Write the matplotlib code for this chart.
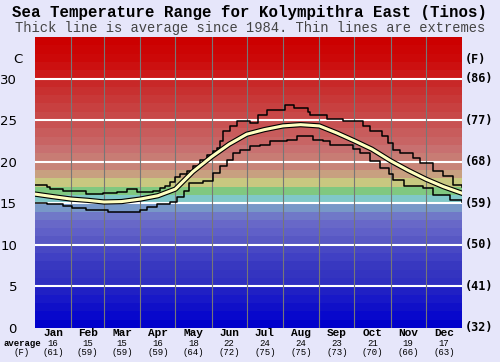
import matplotlib
matplotlib.use("Agg")
import matplotlib.pyplot as plt
import matplotlib.patheffects as pe
from matplotlib.transforms import blended_transform_factory

# month names, month lengths and monthly averages
months = ["Jan", "Feb", "Mar", "Apr", "May", "Jun",
          "Jul", "Aug", "Sep", "Oct", "Nov", "Dec"]
month_days = [31, 28, 31, 30, 31, 30, 31, 31, 30, 31, 30, 31]
avg_c = [16, 15, 15, 16, 18, 22, 24, 24, 23, 21, 19, 17]
avg_f = [61, 59, 59, 59, 64, 72, 75, 75, 73, 70, 66, 63]

# average line (day of year, deg C)
avg_day = [0, 15, 31, 45, 59, 74, 90, 105, 120, 135, 151, 166, 181, 196,
           212, 227, 243, 258, 273, 288, 304, 319, 334, 349, 365]
avg_temp = [16.1, 15.8, 15.5, 15.35, 15.15, 15.2, 15.5, 15.9, 16.7, 18.8,
            20.6, 22.1, 23.3, 23.85, 24.3, 24.45, 24.3, 23.45, 22.5, 21.5,
            20.1, 18.95, 17.9, 17.0, 16.2]

# extremes, step lines
max_day = [0, 10, 13, 24, 44, 58, 70, 79, 87, 101, 107, 111, 115, 120, 124,
           130, 135, 141, 147, 152, 156, 158, 161, 167, 173, 184, 191, 198,
           214, 221, 233, 235, 250, 263, 280, 286, 297, 302, 306, 312, 323,
           329, 340, 349, 357, 365]
max_temp = [17.2, 17.0, 16.7, 16.45, 16.15, 16.2, 16.3, 16.7, 16.3, 16.5,
            16.8, 17.1, 17.6, 18.2, 18.5, 18.85, 19.45, 20.2, 20.8, 21.25,
            21.65, 22.45, 23.7, 24.25, 24.85, 24.65, 25.65, 26.25, 26.85,
            26.4, 25.95, 25.65, 25.1, 24.85, 24.3, 23.7, 23.1, 22.3, 21.45,
            21.05, 20.45, 19.85, 18.85, 18.25, 17.2, 17.0]
min_day = [0, 10, 24, 32, 44, 62, 90, 96, 104, 115, 121, 127, 132, 144, 152,
           158, 164, 169, 175, 184, 192, 201, 215, 224, 238, 246, 252, 272,
           278, 286, 295, 303, 306, 315, 332, 340, 355, 365]
min_temp = [15.0, 14.9, 14.7, 14.4, 14.2, 13.9, 14.2, 14.6, 14.9, 15.2, 15.8,
            16.45, 17.4, 17.65, 18.65, 19.45, 20.2, 21.05, 21.45, 21.85,
            22.05, 22.45, 22.65, 23.05, 22.65, 22.45, 22.05, 21.5, 21.05,
            20.05, 19.25, 18.5, 17.8, 17.05, 16.85, 16.0, 15.4, 15.2]

c_ticks = [0, 5, 10, 15, 20, 25, 30]
f_ticks = [32, 41, 50, 59, 68, 77, 86]

# one colour per degree band, 0..35
band_colors = [
    "#0000cc", "#0808cc", "#1010c8", "#1818c8", "#2020c4",
    "#3030c0", "#3434c0", "#3838c0", "#4040c4", "#4848c4",
    "#5858c4", "#6060c8", "#6868c8", "#7078c8", "#7898c8",
    "#80c8c8", "#80c880", "#c8c880", "#c8a080", "#c88478",
    "#c87c74", "#c87070", "#c86464", "#c85c5c", "#c85252",
    "#c84848", "#c84040", "#c83838", "#c83030", "#c82828",
    "#cc1818", "#cc1010", "#cc0808", "#cc0404", "#cc0000",
]

bg = "#e6e6fa"
fig = plt.figure(figsize=(5, 3.62), dpi=100, facecolor=bg)
ax = fig.add_axes([0.07, 0.094, 0.854, 0.804])

for i, col in enumerate(band_colors):
    ax.axhspan(i, i + 1, color=col, lw=0, zorder=0)

for t in c_ticks[1:]:
    ax.axhline(t, color="white", lw=1.5, zorder=1)
edge = 0
for d in month_days[:-1]:
    edge += d
    ax.axvline(edge, color="#777777", lw=0.8, zorder=1)

ax.plot(max_day, max_temp, drawstyle="steps-post", color="black", lw=1.1, zorder=3)
ax.plot(min_day, min_temp, drawstyle="steps-post", color="black", lw=1.1, zorder=3)
ax.plot(avg_day, avg_temp, color="#ffffc0", lw=2.2, zorder=4,
        path_effects=[pe.Stroke(linewidth=3.8, foreground="black"), pe.Normal()])

ax.set_xlim(0, 365)
ax.set_ylim(0, 35)
for s in ax.spines.values():
    s.set_visible(False)
ax.set_xticks([])
ax.set_yticks(c_ticks)
ax.set_yticklabels([str(t) for t in c_ticks], fontsize=9.5, family="DejaVu Sans")
ax.tick_params(axis="y", length=0, pad=13)

ytr = blended_transform_factory(ax.transAxes, ax.transData)
for t, f in zip(c_ticks, f_ticks):
    ax.text(1.006, t, "(%d)" % f, transform=ytr,
            ha="left", va="center", fontsize=8.5, family="DejaVu Sans Mono", weight="bold")
ax.text(-0.03, 32.3, "C", transform=ytr,
        ha="right", va="center", fontsize=9.5, family="DejaVu Sans")
ax.text(1.006, 32.3, "(F)", transform=ytr,
        ha="left", va="center", fontsize=8.5, family="DejaVu Sans Mono", weight="bold")

tr = blended_transform_factory(ax.transData, fig.transFigure)
start = 0
for name, d, c, f in zip(months, month_days, avg_c, avg_f):
    mid = start + d / 2
    start += d
    ax.text(mid, 0.079, name, transform=tr, ha="center", va="center",
            fontsize=8, family="Liberation Mono", weight="bold")
    ax.text(mid, 0.052, str(c), transform=tr, ha="center", va="center",
            fontsize=6.5, family="Liberation Mono")
    ax.text(mid, 0.026, "(%d)" % f, transform=tr, ha="center", va="center",
            fontsize=6.5, family="Liberation Mono")
fig.text(0.044, 0.052, "average", ha="center", va="center",
         fontsize=6.5, family="Liberation Mono", weight="bold")
fig.text(0.044, 0.026, "(F)", ha="center", va="center",
         fontsize=6.5, family="Liberation Mono")

fig.text(0.5, 0.966, "Sea Temperature Range for Kolympithra East (Tinos)",
         ha="center", va="center", fontsize=11.3, family="Liberation Mono", weight="bold")
fig.text(0.5, 0.922, "Thick line is average since 1984. Thin lines are extremes",
         ha="center", va="center", fontsize=9.9, family="Liberation Mono", color="#444444")

fig.savefig("out.png", dpi=100, facecolor=bg)
